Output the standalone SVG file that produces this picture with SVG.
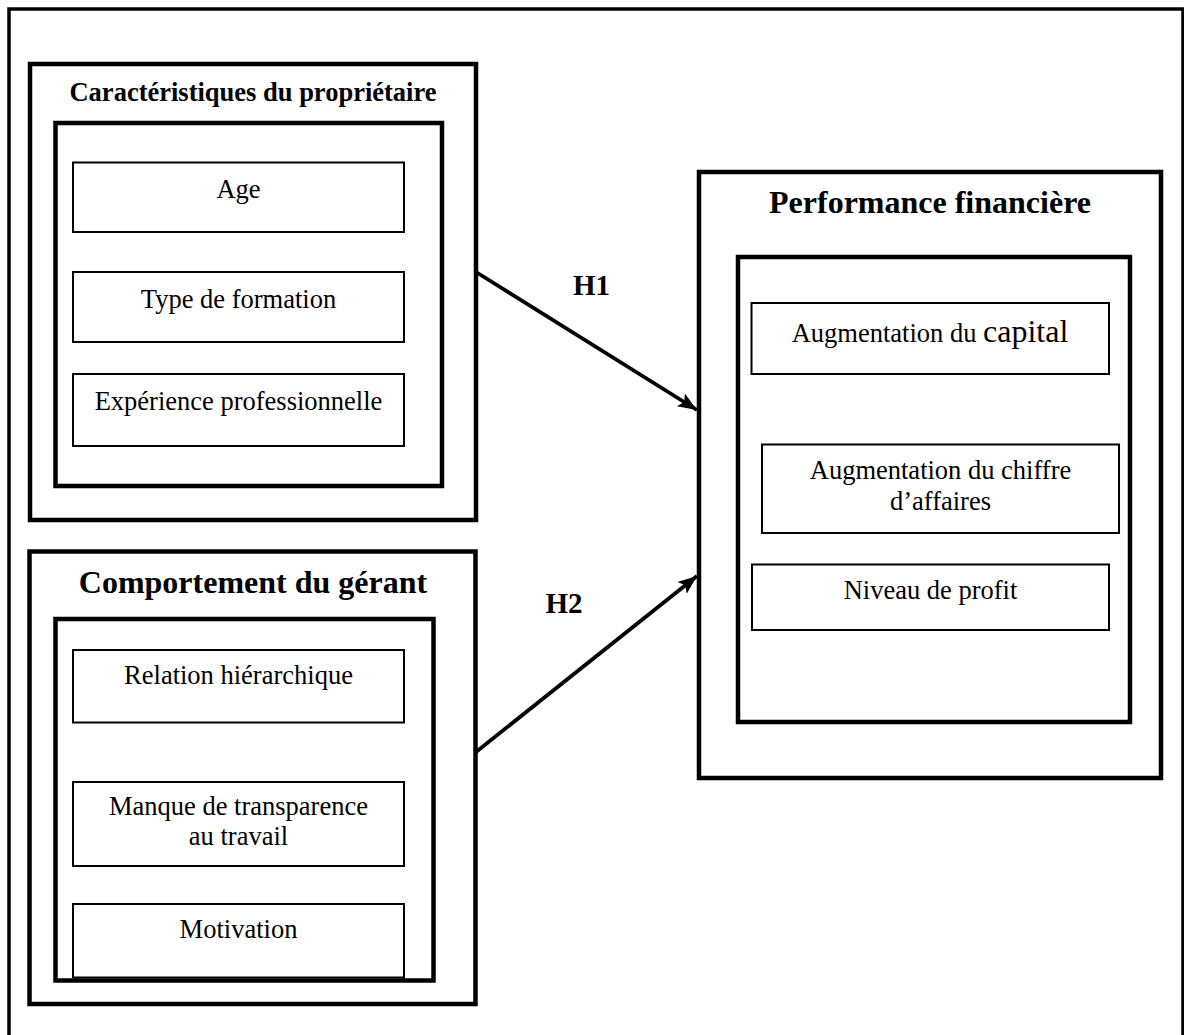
<svg xmlns="http://www.w3.org/2000/svg" width="1184" height="1035" viewBox="0 0 1184 1035">
<style>
text{font-family:"Liberation Serif","Times New Roman",serif;fill:#000;text-anchor:middle}
.t{font-size:26.5px}
.b{font-weight:bold}
.outer{fill:none;stroke:#000;stroke-width:4.5}
.cont{fill:none;stroke:#000;stroke-width:4.5}
.item{fill:#fff;stroke:#000;stroke-width:2}
.conn{fill:none;stroke:#000;stroke-width:3.8}
</style>
<defs>
<marker id="arr" markerUnits="userSpaceOnUse" markerWidth="22" markerHeight="18" refX="19" refY="9" orient="auto">
<path d="M0,1.5 L19,9 L0,16.5 L4,9 Z" fill="#000"/>
</marker>
</defs>
<rect width="1184" height="1035" fill="#fff"/>
<path d="M9,1035 V9 H1183 V1035" fill="none" stroke="#000" stroke-width="3.5"/>

<g id="proprietaire">
<rect class="outer" x="30" y="64" width="446" height="456"/>
<text class="t b" x="253" y="101">Caractéristiques du propriétaire</text>
<rect class="cont" x="55.5" y="123" width="386.5" height="363"/>
<g id="age"><rect class="item" x="73" y="162.5" width="331" height="69.5"/><text class="t" x="238.5" y="198">Age</text></g>
<g id="formation"><rect class="item" x="73" y="272" width="331" height="70"/><text class="t" x="238.5" y="308">Type de formation</text></g>
<g id="experience"><rect class="item" x="73" y="374" width="331" height="72"/><text class="t" x="238.5" y="410">Expérience professionnelle</text></g>
</g>

<g id="gerant">
<rect class="outer" x="29.5" y="551.5" width="446" height="452.5"/>
<text class="b" style="font-size:32px" x="253" y="593">Comportement du gérant</text>
<rect class="cont" x="55.5" y="619" width="378" height="361.5"/>
<g id="relation"><rect class="item" x="73" y="650" width="331" height="72.5"/><text class="t" x="238.5" y="684">Relation hiérarchique</text></g>
<g id="transparence"><rect class="item" x="73" y="782" width="331" height="84"/><text class="t" x="238.5" y="815">Manque de transparence</text><text class="t" x="238.5" y="845">au travail</text></g>
<g id="motivation"><rect class="item" x="73" y="904" width="331" height="73.5"/><text class="t" x="238.5" y="938">Motivation</text></g>
</g>

<g id="performance">
<rect class="outer" x="699" y="172" width="462" height="606"/>
<text class="b" style="font-size:32px" x="930" y="213">Performance financière</text>
<rect class="cont" x="738" y="257" width="392" height="465"/>
<g id="capital"><rect class="item" x="751.5" y="303" width="357.5" height="71"/><text class="t" x="930" y="342">Augmentation du <tspan style="font-size:32px">capital</tspan></text></g>
<g id="chiffre"><rect class="item" x="762" y="444.5" width="357" height="88.5"/><text class="t" x="940.5" y="479">Augmentation du chiffre</text><text class="t" x="940.5" y="510">d’affaires</text></g>
<g id="profit"><rect class="item" x="752" y="564.5" width="357" height="65.5"/><text class="t" x="930.5" y="599">Niveau de profit</text></g>
</g>

<g id="connectors">
<line class="conn" x1="476" y1="272" x2="697" y2="410" marker-end="url(#arr)"/>
<line class="conn" x1="476" y1="752" x2="697" y2="576" marker-end="url(#arr)"/>
<text class="b" style="font-size:29px" x="591.5" y="295">H1</text>
<text class="b" style="font-size:29px" x="564" y="613">H2</text>
</g>
</svg>
